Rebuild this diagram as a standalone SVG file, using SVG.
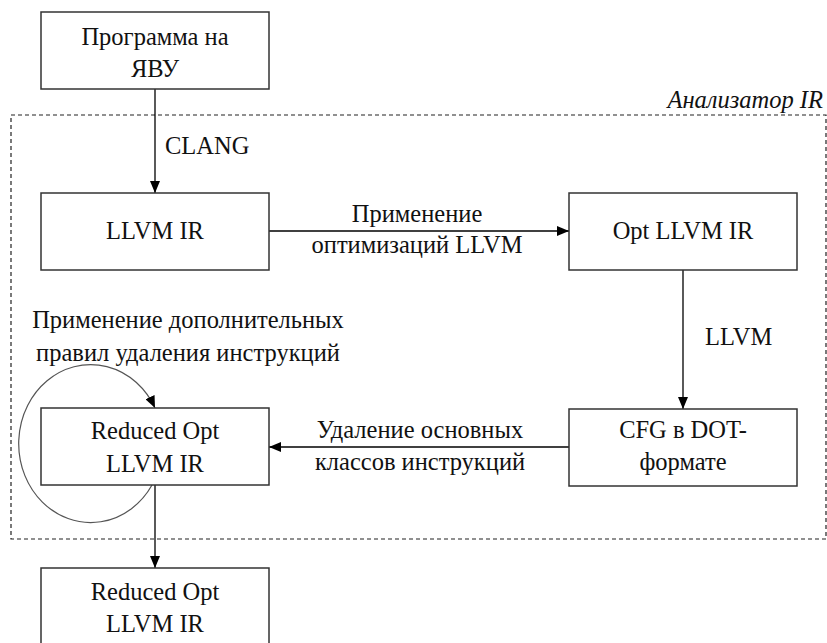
<svg xmlns="http://www.w3.org/2000/svg" width="827" height="643" viewBox="0 0 827 643">
  <style>
    .t { font-family: "Liberation Serif", "Times New Roman", serif; font-size: 24.5px; fill: #111; }
    .c { text-anchor: middle; }
    .box { fill: #fff; stroke: #333; stroke-width: 1.5; }
    .edge { fill: none; stroke: #000; stroke-width: 1.3; }
    .loop { fill: none; stroke: #555; stroke-width: 1.2; }
    .frame { fill: none; stroke: #222; stroke-width: 1.2; stroke-dasharray: 4 3; }
  </style>
  <defs>
    <marker id="arrow" viewBox="0 0 12 10" refX="12" refY="5" markerWidth="12" markerHeight="10" markerUnits="userSpaceOnUse" orient="auto">
      <path d="M0,0 L12,5 L0,10 Z" fill="#000"/>
    </marker>
  </defs>

  <!-- analyzer boundary -->
  <g id="analyzer">
    <rect class="frame" x="11" y="115" width="815" height="424"/>
    <text class="t" x="823" y="108" font-family="Liberation Serif" font-style="italic" text-anchor="end">Анализатор IR</text>
  </g>

  <!-- connectors -->
  <g id="connectors">
    <line class="edge" x1="155" y1="89" x2="155" y2="193" marker-end="url(#arrow)"/>
    <text class="t" x="165" y="154" font-family="Liberation Serif">CLANG</text>

    <line class="edge" x1="269" y1="231" x2="569" y2="231" marker-end="url(#arrow)"/>
    <text class="t c" x="417" y="222" font-family="Liberation Serif">Применение</text>
    <text class="t c" x="417" y="253" font-family="Liberation Serif">оптимизаций LLVM</text>

    <line class="edge" x1="683" y1="270" x2="683" y2="409" marker-end="url(#arrow)"/>
    <text class="t" x="705" y="345" font-family="Liberation Serif">LLVM</text>

    <line class="edge" x1="569" y1="447" x2="269" y2="447" marker-end="url(#arrow)"/>
    <text class="t c" x="420" y="438" font-family="Liberation Serif">Удаление основных</text>
    <text class="t c" x="420" y="470" font-family="Liberation Serif">классов инструкций</text>

    <path class="loop" d="M152,485 A72,79 0 1 1 155,408" marker-end="url(#arrow)"/>
    <text class="t c" x="188" y="328" font-family="Liberation Serif">Применение дополнительных</text>
    <text class="t c" x="188" y="361" font-family="Liberation Serif">правил удаления инструкций</text>

    <line class="edge" x1="155" y1="485" x2="155" y2="568" marker-end="url(#arrow)"/>
  </g>

  <!-- nodes -->
  <g id="source">
    <rect class="box" x="41" y="12" width="228" height="77"/>
    <text class="t c" x="155" y="45" font-family="Liberation Serif">Программа на</text>
    <text class="t c" x="155" y="77" font-family="Liberation Serif">ЯВУ</text>
  </g>

  <g id="llvm-ir">
    <rect class="box" x="41" y="193" width="228" height="77"/>
    <text class="t c" x="155" y="239" font-family="Liberation Serif">LLVM IR</text>
  </g>

  <g id="opt-llvm-ir">
    <rect class="box" x="569" y="193" width="228" height="77"/>
    <text class="t c" x="683" y="239" font-family="Liberation Serif">Opt LLVM IR</text>
  </g>

  <g id="cfg-dot">
    <rect class="box" x="569" y="409" width="228" height="77"/>
    <text class="t c" x="683" y="438" font-family="Liberation Serif">CFG в DOT-</text>
    <text class="t c" x="683" y="470" font-family="Liberation Serif">формате</text>
  </g>

  <g id="reduced-inner">
    <rect class="box" x="41" y="408" width="228" height="77"/>
    <text class="t c" x="155" y="439" font-family="Liberation Serif">Reduced Opt</text>
    <text class="t c" x="155" y="472" font-family="Liberation Serif">LLVM IR</text>
  </g>

  <g id="reduced-out">
    <rect class="box" x="41" y="568" width="228" height="77"/>
    <text class="t c" x="155" y="600" font-family="Liberation Serif">Reduced Opt</text>
    <text class="t c" x="155" y="632" font-family="Liberation Serif">LLVM IR</text>
  </g>
</svg>
